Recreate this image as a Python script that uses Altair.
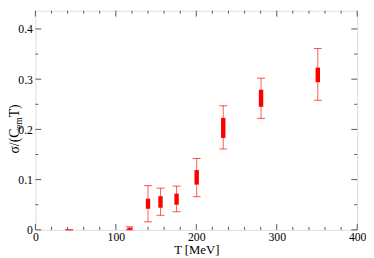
import altair as alt
import pandas as pd

# data
T = [42, 117, 140, 155.5, 175.5, 200.5, 233.5, 280.5, 351]
box_lo = [0.0, 0.0, 0.042, 0.044, 0.050, 0.090, 0.183, 0.245, 0.294]
box_hi = [0.0, 0.004, 0.062, 0.067, 0.072, 0.119, 0.223, 0.279, 0.323]
err_lo = [0.0, 0.0, 0.016, 0.029, 0.036, 0.066, 0.161, 0.222, 0.258]
err_hi = [0.0, 0.006, 0.088, 0.083, 0.087, 0.142, 0.247, 0.302, 0.361]

x_major = [0, 100, 200, 300, 400]
x_minor = [20, 40, 60, 80, 120, 140, 160, 180, 220, 240, 260, 280, 320, 340, 360, 380]
y_major = [0.0, 0.1, 0.2, 0.3, 0.4]
y_minor = [0.05, 0.15, 0.25, 0.35]

W, H = 329, 224
YMAX = 0.4363
FONT = "Liberation Serif, Times New Roman, serif"
RED = "#ff0000"
TICKC = "#555555"

df = pd.DataFrame({"T": T, "blo": box_lo, "bhi": box_hi, "elo": err_lo, "ehi": err_hi})

xs = alt.Scale(domain=[0, 400], nice=False, zero=False)
ys = alt.Scale(domain=[0, YMAX], nice=False, zero=False)

XAX = alt.Axis(
    values=x_major, title="T [MeV]", domain=False, ticks=False, grid=False,
    labelFont=FONT, labelFontSize=12, labelColor="black", labelPadding=2,
    titleFont=FONT, titleFontSize=13, titleFontWeight="normal", titleColor="black",
    titlePadding=1, labelFlush=False)
YAX = alt.Axis(
    values=y_major, title=None, domain=False, ticks=False, grid=False,
    labelFont=FONT, labelFontSize=12, labelColor="black", labelPadding=3,
    labelExpr="datum.value == 0 ? '0' : format(datum.value, '.1f')")

base = alt.Chart(df)

err = base.mark_rule(color=RED, strokeWidth=1, opacity=0.65).encode(
    x=alt.X("T:Q", scale=xs, axis=XAX, title="T [MeV]"),
    y=alt.Y("elo:Q", scale=ys, axis=YAX, title=None),
    y2="ehi:Q",
)
cap_lo = base.mark_tick(color=RED, thickness=1, size=8, orient="horizontal", opacity=0.7).encode(
    x=alt.X("T:Q", scale=xs, axis=XAX, title="T [MeV]"),
    y=alt.Y("elo:Q", scale=ys, axis=YAX, title=None))
cap_hi = base.mark_tick(color=RED, thickness=1, size=8, orient="horizontal", opacity=0.7).encode(
    x=alt.X("T:Q", scale=xs, axis=XAX, title="T [MeV]"),
    y=alt.Y("ehi:Q", scale=ys, axis=YAX, title=None))
box = base.mark_rule(color=RED, strokeWidth=4.5, strokeCap="butt").encode(
    x=alt.X("T:Q", scale=xs, axis=XAX, title="T [MeV]"),
    y=alt.Y("blo:Q", scale=ys, axis=YAX, title=None), y2="bhi:Q")

# inward ticks
def xticks(vals, ln):
    d = alt.Chart(pd.DataFrame({"v": vals}))
    b = d.mark_rule(color=TICKC, strokeWidth=1).encode(
        x=alt.X("v:Q", scale=xs, axis=XAX, title="T [MeV]"), y=alt.value(H), y2=alt.value(H - ln))
    t = d.mark_rule(color=TICKC, strokeWidth=1).encode(
        x=alt.X("v:Q", scale=xs, axis=XAX, title="T [MeV]"), y=alt.value(0), y2=alt.value(ln))
    return [b, t]

def yticks(vals, ln):
    d = alt.Chart(pd.DataFrame({"v": vals}))
    l = d.mark_rule(color=TICKC, strokeWidth=1).encode(
        y=alt.Y("v:Q", scale=ys, axis=YAX, title=None), x=alt.value(0), x2=alt.value(ln))
    r = d.mark_rule(color=TICKC, strokeWidth=1).encode(
        y=alt.Y("v:Q", scale=ys, axis=YAX, title=None), x=alt.value(W), x2=alt.value(W - ln))
    return [l, r]

ticks = xticks(x_major, 6) + xticks(x_minor, 3) + yticks(y_major, 6) + yticks(y_minor, 3)

# y title with subscript (positions relative to plot origin at page (36, 8))
one = alt.Chart(pd.DataFrame({"a": [0]}))
t1 = one.mark_text(font=FONT, fontSize=14, angle=270, align="left", baseline="alphabetic", color="black").encode(
    x=alt.value(-17), y=alt.value(146), text=alt.value("σ/(C"))
t2 = one.mark_text(font=FONT, fontSize=10, angle=270, align="left", baseline="alphabetic", color="black").encode(
    x=alt.value(-14), y=alt.value(121), text=alt.value("em"))
t3 = one.mark_text(font=FONT, fontSize=14, angle=270, align="left", baseline="alphabetic", color="black").encode(
    x=alt.value(-17), y=alt.value(109), text=alt.value(" T)"))

chart = alt.layer(err, cap_lo, cap_hi, box, *ticks, t1, t2, t3).properties(
    width=W, height=H,
    autosize=alt.AutoSizeParams(type="none"),
    padding={"left": 28, "top": 0, "right": 9, "bottom": 26},
).configure_view(stroke="#444444", strokeWidth=1.2).configure(background="white")

chart.save("out.html", embed_options={"renderer": "svg", "actions": False})
